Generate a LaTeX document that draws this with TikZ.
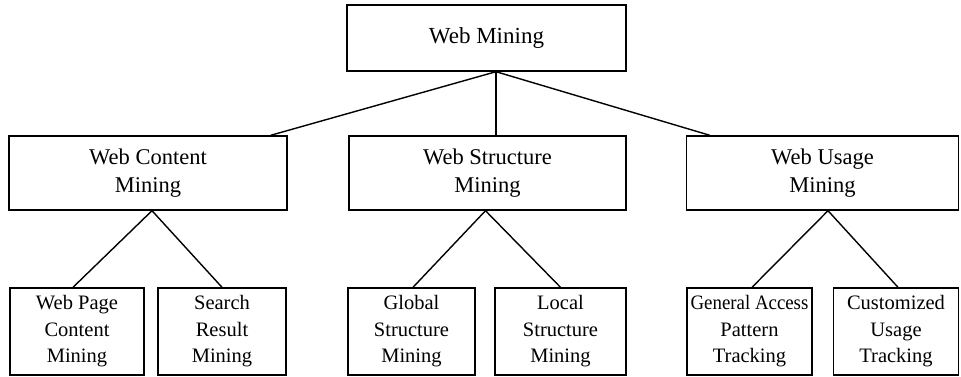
\documentclass[tikz,border=0pt]{standalone}
\usepackage{fontspec}
\setmainfont{Liberation Serif}
\newfontfamily\narrowfont[FakeStretch=0.92]{Liberation Serif}
\usetikzlibrary{positioning,calc}

\begin{document}
\begin{tikzpicture}[x=1pt, y=-1pt, line width=1.4pt,
  box/.style={rectangle, draw, inner sep=0pt, align=center},
  topbox/.style={box, minimum width=279pt, minimum height=66pt, font=\fontsize{23}{28}\selectfont},
  midbox/.style={box, minimum height=74pt, font=\fontsize{22.5}{28}\selectfont},
  leafbox/.style={box, minimum height=87pt, font=\fontsize{20.5}{26.5}\selectfont}]
  \useasboundingbox (0,0) rectangle (961,377);

  % Root
  \node[topbox] (web) at (486.5,38) {Web Mining};

  % Three kinds of mining
  \node[midbox, minimum width=278pt] (content)   at (148,173)   {Web Content\\Mining};
  \node[midbox, minimum width=277pt] (structure) at (487.5,173) {Web Structure\\Mining};
  \node[midbox, minimum width=272pt] (usage)     at (822.5,173) {Web Usage\\Mining};

  % Leaves
  \node[leafbox, minimum width=134pt] (pagecontent) at (77,331.5)    {Web Page\\Content\\Mining};
  \node[leafbox, minimum width=128pt] (searchres)   at (222,331.5)   {Search\\Result\\Mining};
  \node[leafbox, minimum width=127pt] (globalstr)   at (411.5,331.5) {Global\\Structure\\Mining};
  \node[leafbox, minimum width=131pt] (localstr)    at (560.5,331.5) {Local\\Structure\\Mining};
  \node[leafbox, minimum width=125pt] (access)      at (749.5,331.5) {{\narrowfont General Access}\\Pattern\\Tracking};
  \node[leafbox, minimum width=125pt] (custom)      at (896,331.5)   {Customized\\Usage\\Tracking};

  % Joints under the boxes
  \coordinate (webj) at ($(web.south)+(9.5,0)$);
  \coordinate (contentj) at ($(content.south)+(4,0)$);
  \coordinate (structurej) at ($(structure.south)+(-2,0)$);
  \coordinate (usagej) at ($(usage.south)+(5.5,0)$);

  % Root to the three kinds
  \draw (webj) -- ($(content.north east)+(-17,0)$);
  \draw (webj) -- (webj |- structure.north);
  \draw (webj) -- ($(usage.north west)+(24,0)$);

  % Kinds to leaves
  \draw (contentj) -- ($(pagecontent.north)+(-4,0)$);
  \draw (contentj) -- (searchres.north);
  \draw (structurej) -- ($(globalstr.north)+(1.5,0)$);
  \draw (structurej) -- (localstr.north);
  \draw (usagej) -- ($(access.north)+(2.5,0)$);
  \draw (usagej) -- ($(custom.north)+(2,0)$);
\end{tikzpicture}
\end{document}
